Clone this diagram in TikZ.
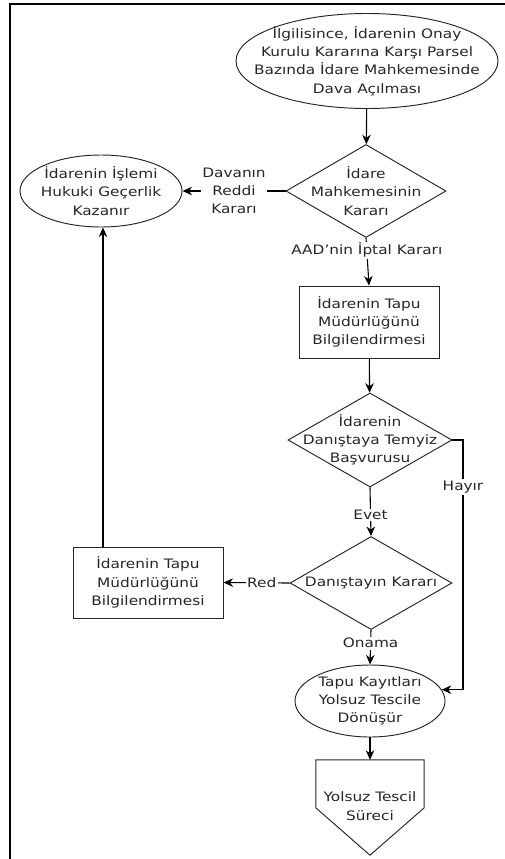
\documentclass[tikz,border=0pt]{standalone}
\usepackage{fontspec}
\setmainfont{DejaVu Sans}[FakeStretch=1.18]
\usetikzlibrary{shapes.geometric,arrows.meta,calc}
\definecolor{txtc}{HTML}{262626}
\tikzset{
  shp/.style={draw=black!85, line width=0.95pt, inner sep=0pt},
  ell/.style={shp, ellipse},
  box/.style={shp, rectangle},
  dia/.style={shp, diamond},
  txt/.style={text=txtc, align=center, inner sep=0pt, font=\fontsize{13}{18.3}\selectfont},
  lbl/.style={txt, fill=white, inner sep=1.5pt},
  arr/.style={line width=1.1pt, -{Stealth[length=9.5pt,width=8.5pt,inset=3pt]}},
  ln/.style={line width=0.95pt, draw=black!85}
}
\begin{document}
\begin{tikzpicture}[x=1pt,y=-1pt]
\useasboundingbox (0,0) rectangle (505,859);
% frame
\draw[line width=2pt] (10,859) -- (10,4) -- (505,4);

% top ellipse
\node[ell, minimum width=262pt, minimum height=95pt] (e1) at (367,61) {};
\node[txt] (e1t) at (367,61) {İlgilisince, İdarenin Onay\\Kurulu Kararına Karşı Parsel\\Bazında İdare Mahkemesinde\\Dava Açılması};

% decision 1
\node[dia, minimum width=160pt, minimum height=93pt] (d1) at (366,191) {};
\node[txt] (d1t) at (366,191) {İdare\\Mahkemesinin\\Kararı};

% left ellipse
\node[ell, minimum width=162pt, minimum height=72pt] (e2) at (101,191) {};
\node[txt] (e2t) at (101,191) {İdarenin İşlemi\\Hukuki Geçerlik\\Kazanır};

% box 1
\node[box, minimum width=140pt, minimum height=72pt] (b1) at (369,322) {};
\node[txt] (b1t) at (369,322) {İdarenin Tapu\\Müdürlüğünü\\Bilgilendirmesi};

% decision 2
\node[dia, minimum width=164pt, minimum height=94pt] (d2) at (370,440) {};
\node[txt] (d2t) at (370,440) {İdarenin\\Danıştaya Temyiz\\Başvurusu};

% decision 3
\node[dia, minimum width=162pt, minimum height=93pt] (d3) at (371,583) {};
\node[txt] (d3t) at (371,583) {Danıştayın Kararı};

% box 2
\node[box, minimum width=150pt, minimum height=71pt] (b2) at (148,582.5) {};
\node[txt] (b2t) at (148,582.5) {İdarenin Tapu\\Müdürlüğünü\\Bilgilendirmesi};

% bottom ellipse
\node[ell, minimum width=150pt, minimum height=72pt] (e3) at (370,701) {};
\node[txt] (e3t) at (370,701) {Tapu Kayıtları\\Yolsuz Tescile\\Dönüşür};

% off-page connector
\node[minimum width=108pt, minimum height=95pt, inner sep=0pt] (yt) at (370,807.5) {};
\draw[ln, line join=miter] (yt.north west) -- (yt.north east) -- ($(yt.north east)+(0,48)$) -- (yt.south) -- ($(yt.north west)+(0,48)$) -- cycle;
\node[txt] (ytt) at (370,806) {Yolsuz Tescil\\Süreci};

% connectors
\draw[arr] (e1) -- (d1);
\draw[arr] (d1.west) -- node[lbl, pos=0.5] (l1) {Davanın\\Reddi\\Kararı} (e2.east);
\draw[arr] (d1.south) -- node[lbl, pos=0.26] (l2) {AAD'nin İptal Kararı} (b1.north);
\draw[arr] (b1) -- (d2);
\draw[arr] (d2.south) -- node[lbl, pos=0.57] (l3) {Evet} (d3.north);
\draw[arr] (d3.west) -- node[lbl, pos=0.42] (l4) {Red} (b2.east);
\draw[arr] (d3.south) -- node[lbl, pos=0.38] (l5) {Onama} (e3.north);
\coordinate (hx) at (463,440);
\draw[arr] (d2.east) -- (hx) |- (e3.9);
\node[lbl] (l6) at (463,487) {Hayır};
\coordinate (up) at (103,547);
\draw[arr] (up) -- (e2.south -| up);
\draw[arr] (e3) -- (yt.north);
\end{tikzpicture}
\end{document}
